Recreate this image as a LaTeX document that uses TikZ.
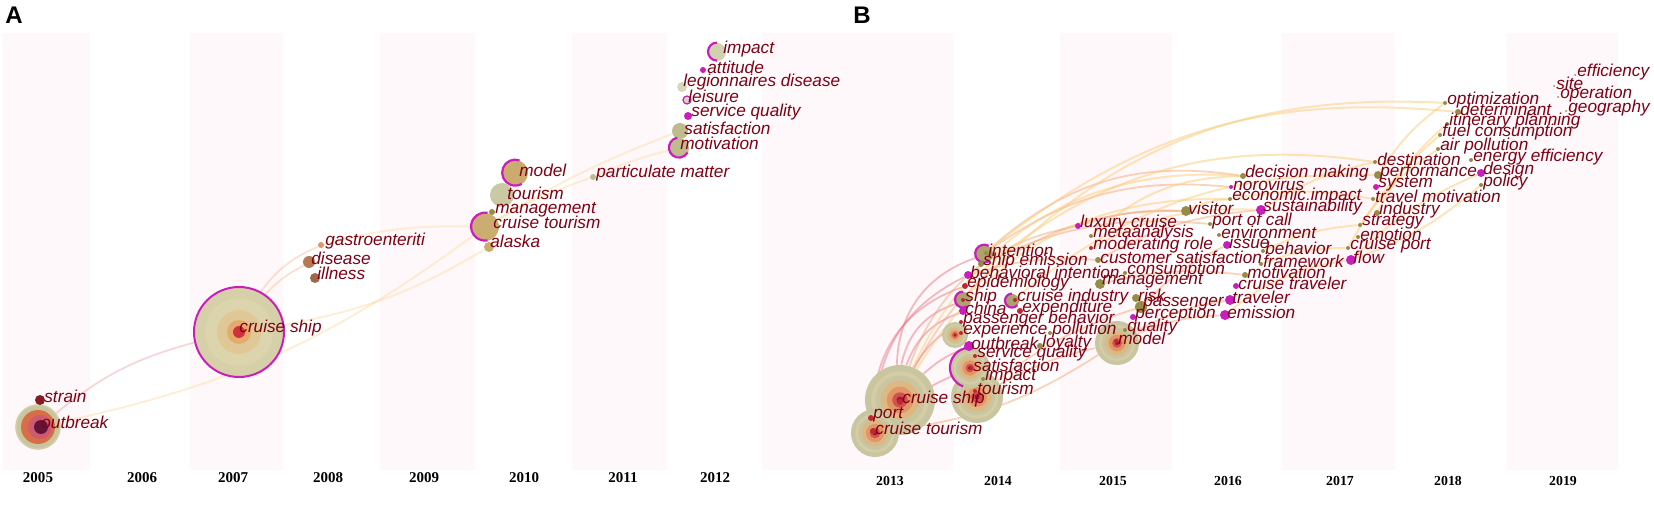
\documentclass[tikz,border=0pt]{standalone}
\usepackage{fontspec}
\setmainfont{Liberation Sans}
\newfontfamily\yearfont{Liberation Serif}
\pgfdeclarelayer{back}
\pgfdeclarelayer{edges}
\pgfsetlayers{back,edges,main}
\definecolor{lblc}{RGB}{128,0,20}
\definecolor{mag}{RGB}{200,30,190}
\definecolor{olv}{RGB}{190,188,140}
\definecolor{olvd}{RGB}{150,140,70}
\definecolor{tanc}{RGB}{205,170,110}
\definecolor{redd}{RGB}{190,40,50}
\definecolor{stripec}{RGB}{255,248,250}
\definecolor{rA}{RGB}{200,198,160}
\definecolor{rB}{RGB}{214,204,166}
\definecolor{rC}{RGB}{222,184,130}
\definecolor{rD}{RGB}{226,150,104}
\definecolor{rE}{RGB}{208,84,76}
\definecolor{rF}{RGB}{170,20,50}
\definecolor{obA}{RGB}{215,110,70}
\definecolor{obB}{RGB}{205,90,110}
\definecolor{obC}{RGB}{100,20,55}
\definecolor{csA}{RGB}{214,208,168}
\definecolor{csB}{RGB}{220,212,172}
\definecolor{csC}{RGB}{224,200,150}
\definecolor{csD}{RGB}{228,170,110}
\definecolor{csE}{RGB}{208,50,60}
\definecolor{edgeOc}{RGB}{240,160,110}
\definecolor{edgeYc}{RGB}{250,205,120}
\definecolor{edgePc}{RGB}{230,120,135}
\tikzset{
 lbl/.style={anchor=west,inner sep=0pt,text=lblc,font=\fontsize{8.6}{9}\selectfont\itshape},
 yr/.style={inner sep=0pt,font=\yearfont\bfseries\fontsize{7.5}{8}\selectfont},
 yrb/.style={inner sep=0pt,font=\yearfont\bfseries\fontsize{6.9}{8}\selectfont},
 panel/.style={anchor=base west,inner sep=0pt,font=\bfseries\fontsize{12}{12}\selectfont},
 edgeO/.style={draw=edgeOc,opacity=0.45,line width=0.9pt},
 edgeY/.style={draw=edgeYc,opacity=0.5,line width=1pt},
 edgeP/.style={draw=edgePc,opacity=0.5,line width=0.9pt},
 faint/.style={opacity=0.3},
 magarc/.style={draw=mag,line width=1.1pt},
}
% citation tree: name, x, y, radius (pt)
\newcommand\cstree[4]{%
 \node[circle,inner sep=0pt,minimum size=#4*2pt] (#1) at (#2,#3) {};
 \fill[rA] (#1.center) circle[radius=#4pt];
 \fill[rB] (#1.center) circle[radius=#4*0.82pt];
 \fill[rA] (#1.center) circle[radius=#4*0.7pt];
 \fill[rC] (#1.center) circle[radius=#4*0.55pt];
 \fill[rD] (#1.center) circle[radius=#4*0.38pt];
 \fill[rE] (#1.center) circle[radius=#4*0.22pt];
 \fill[rF] (#1.center) circle[radius=#4*0.1pt];
}
% keyword: name, x, y, text, dot colour, dot size (pt)
\newcommand\kw[6]{%
 \node[circle,fill=#5,inner sep=0pt,minimum size=#6pt] (#1) at (#2-2,#3+3) {};
 \node[lbl] (#1-t) at (#2,#3) {#4};
}
\begin{document}
\begin{tikzpicture}[x=0.5pt,y=-0.5pt]
\useasboundingbox (0,0) rectangle (1654,507);
% ---------- background and stripes ----------
\begin{pgfonlayer}{back}
\fill[white] (0,0) rectangle (1654,507);
\foreach \a/\b in {3/90,190/283,380/475,572/667,762/953,1060/1172,1282/1395,1507/1618}
 \fill[stripec] (\a,33) rectangle (\b,470);
\end{pgfonlayer}
\node[panel] (pA) at (5,24) {A};
\node[panel] (pB) at (853,24) {B};
% ---------- years ----------
\foreach \x/\y in {38/2005,142/2006,233/2007,328/2008,424/2009,524/2010,623/2011,715/2012}
 \node[yr] (y\y) at (\x,478) {\y};
\foreach \x/\y in {890/2013,998/2014,1113/2015,1228/2016,1340/2017,1448/2018,1563/2019}
 \node[yrb] (y\y) at (\x,481) {\y};
% ================= PANEL A =================
\node[circle,inner sep=0pt,minimum size=22pt,fill=rA,draw=rB,line width=0.8pt] (a-ob) at (38,427) {};
\fill[obA] (a-ob.center) circle[radius=8.5pt];
\fill[obB] ([xshift=1pt]a-ob.center) circle[radius=6pt];
\fill[obC] ([xshift=1.5pt]a-ob.center) circle[radius=3.5pt];
\node[circle,inner sep=0pt,minimum size=45pt,fill=csA,draw=mag,line width=1pt] (a-cs) at (239,332) {};
\fill[csB] (a-cs.center) circle[radius=17pt];
\fill[csC] (a-cs.center) circle[radius=11pt];
\fill[csD] (a-cs.center) circle[radius=6pt];
\fill[csE] (a-cs.center) circle[radius=3pt];
\node[circle,inner sep=0pt,minimum size=5pt,fill=redd!70!black] (a-strain) at (40,400) {};
\node[circle,inner sep=0pt,minimum size=3pt,fill=rD] (a-gas) at (321,245) {};
\node[circle,inner sep=0pt,minimum size=6pt,fill=rD!80!black] (a-dis) at (309,262) {};
\node[circle,inner sep=0pt,minimum size=5pt,fill=rD!70!black] (a-ill) at (315,278) {};
\node[circle,inner sep=0pt,minimum size=13pt,fill=tanc] (a-model) at (515,173) {};
\draw[magarc] (a-model.70) arc[start angle=70,end angle=300,radius=6.5pt];
\node[circle,inner sep=0pt,minimum size=12pt,fill=olv!80!white] (a-tour) at (502,195) {};
\node[circle,inner sep=0pt,minimum size=3pt,fill=olvd] (a-mgmt) at (492,212) {};
\node[circle,inner sep=0pt,minimum size=14pt,fill=tanc!90!olv] (a-ct) at (485,227) {};
\draw[magarc] (a-ct.80) arc[start angle=80,end angle=280,radius=7pt];
\node[circle,inner sep=0pt,minimum size=5pt,fill=tanc] (a-al) at (489,247) {};
\node[circle,inner sep=0pt,minimum size=3pt,fill=olv] (a-pm) at (593,177) {};
\node[circle,inner sep=0pt,minimum size=9pt,fill=olv!70!white] (a-imp) at (717,52) {};
\draw[magarc] (a-imp.90) arc[start angle=90,end angle=270,radius=4.5pt];
\node[circle,inner sep=0pt,minimum size=3pt,fill=mag] (a-att) at (703,70) {};
\node[circle,inner sep=0pt,minimum size=5pt,fill=olv!60!white] (a-leg) at (682,87) {};
\node[circle,inner sep=0pt,minimum size=4pt,fill=olv!60!white,draw=mag,line width=0.6pt] (a-lei) at (687,100) {};
\node[circle,inner sep=0pt,minimum size=4pt,fill=mag] (a-sq) at (688,116) {};
\node[circle,inner sep=0pt,minimum size=8pt,fill=olv] (a-sat) at (680,131) {};
\node[circle,inner sep=0pt,minimum size=10pt,fill=olv] (a-mot) at (679,148) {};
\draw[magarc] (a-mot.100) arc[start angle=100,end angle=330,radius=5pt];
% labels A
\node[lbl] (a-strain-t) at (44,396) {strain};
\node[lbl] (a-ob-t) at (41,422) {outbreak};
\node[lbl] (a-cs-t) at (239,328) {cruise ship};
\node[lbl] (a-gas-t) at (325,241) {gastroenteriti};
\node[lbl] (a-dis-t) at (311,258) {disease};
\node[lbl] (a-ill-t) at (317,273) {illness};
\node[lbl] (a-model-t) at (519,170) {model};
\node[lbl] (a-tour-t) at (507,193) {tourism};
\node[lbl] (a-mgmt-t) at (495,210) {management};
\node[lbl] (a-ct-t) at (493,222) {cruise tourism};
\node[lbl] (a-al-t) at (490,241) {alaska};
\node[lbl] (a-pm-t) at (596,173) {particulate matter};
\node[lbl] (a-imp-t) at (723,49) {impact};
\node[lbl] (a-att-t) at (707,67) {attitude};
\node[lbl] (a-leg-t) at (683,82) {legionnaires disease};
\node[lbl] (a-lei-t) at (688,96) {leisure};
\node[lbl] (a-sq-t) at (691,112) {service quality};
\node[lbl] (a-sat-t) at (684,128) {satisfaction};
\node[lbl] (a-mot-t) at (680,143) {motivation};
% edges A
\begin{pgfonlayer}{edges}
\draw[edgeP,faint] (a-ob) to[bend left=12] (a-cs);
\draw[edgeO,faint] (a-cs) to[bend left=10] (a-dis);
\draw[edgeO,faint] (a-cs) to[bend left=15] (a-gas);
\draw[edgeY,faint] (a-ob) to[bend right=12] (a-ct);
\draw[edgeY,faint] (a-cs) to[bend right=10] (a-al);
\draw[edgeY,faint] (a-gas) to[bend left=8] (a-ct);
\draw[edgeY,faint] (a-ct) to[bend left=5] (a-pm);
\draw[edgeY,faint] (a-ct) to[bend left=5] (a-sat);
\draw[edgeY,faint] (a-pm) to[bend left=5] (a-mot);
\end{pgfonlayer}
% ================= PANEL B =================
\cstree{b-cs}{900}{400}{17.5}
\cstree{b-ct}{875}{433}{12}
\cstree{b-tour}{977}{397}{13}
\cstree{b-sat}{970}{368}{10}
\draw[magarc] (b-sat.95) arc[start angle=95,end angle=250,radius=10pt];
\cstree{b-exp}{955}{335}{6.5}
\cstree{b-model}{1117}{343}{11}
\node[circle,inner sep=0pt,minimum size=9pt,fill=olvd!80!white] (b-int) at (984,254) {};
\draw[magarc] (b-int.60) arc[start angle=60,end angle=300,radius=4.5pt];
\node[circle,inner sep=0pt,minimum size=8pt,fill=olvd!80!white] (b-ship) at (963,300) {};
\draw[magarc] (b-ship.90) arc[start angle=90,end angle=300,radius=4pt];
\node[circle,inner sep=0pt,minimum size=7pt,fill=olvd!80!white] (b-ci) at (1012,301) {};
\draw[magarc] (b-ci.90) arc[start angle=90,end angle=320,radius=3.5pt];
\kw{b-port}{873}{415}{port}{redd}{3}
\kw{b-ctl}{875}{428}{cruise tourism}{redd}{3}
\kw{b-csl}{902}{399}{cruise ship}{redd}{3}
\kw{b-tourl}{977}{388}{tourism}{redd}{2}
\kw{b-impact}{985}{376}{impact}{olvd}{2}
\kw{b-satl}{973}{365}{satisfaction}{redd}{2}
\kw{b-sq}{977}{353}{service quality}{redd}{2}
\kw{b-outb}{971}{343}{outbreak}{mag}{5}
\kw{b-loy}{1042}{343}{loyalty}{olvd}{3}
\kw{b-expl}{963}{330}{experience}{redd}{2}
\kw{b-poll}{1052}{330}{pollution}{olvd}{2}
\kw{b-pb}{963}{319}{passenger behavior}{redd}{2}
\kw{b-china}{965}{308}{china}{mag}{4}
\kw{b-expd}{1022}{308}{expenditure}{redd}{3}
\kw{b-shipl}{965}{297}{ship}{redd}{2}
\kw{b-cil}{1017}{297}{cruise industry}{redd}{2}
\kw{b-risk}{1138}{295}{risk}{olvd}{4}
\kw{b-pass}{1143}{304}{passenger}{olvd}{6}
\kw{b-perc}{1135}{314}{perception}{mag}{3}
\kw{b-qual}{1127}{327}{quality}{olvd}{2}
\kw{b-modell}{1118}{338}{model}{redd}{2}
\kw{b-epi}{967}{283}{epidemiology}{redd}{3}
\kw{b-bi}{970}{272}{behavioral intention}{mag}{4}
\kw{b-se}{983}{261}{ship emission}{olvd}{3}
\kw{b-intl}{988}{250}{intention}{olvd}{2}
\kw{b-lux}{1080}{223}{luxury cruise}{mag}{3}
\kw{b-meta}{1093}{233}{metaanalysis}{olvd}{2}
\kw{b-mod}{1093}{245}{moderating role}{redd}{2}
\kw{b-custs}{1100}{257}{customer satisfaction}{olvd}{3}
\kw{b-cons}{1127}{270}{consumption}{olvd}{2}
\kw{b-mgmt}{1102}{281}{management}{olvd}{5}
\kw{b-trav}{1232}{297}{traveler}{mag}{5}
\kw{b-emis}{1227}{312}{emission}{mag}{5}
\kw{b-mot}{1247}{272}{motivation}{olvd}{3}
\kw{b-ctrav}{1238}{283}{cruise traveler}{mag}{3}
\kw{b-frame}{1263}{261}{framework}{olvd}{2}
\kw{b-behav}{1265}{248}{behavior}{olvd}{2}
\kw{b-issue}{1229}{242}{issue}{mag}{4}
\kw{b-env}{1221}{232}{environment}{olvd}{2}
\kw{b-poc}{1212}{221}{port of call}{olvd}{2}
\kw{b-vis}{1188}{208}{visitor}{olvd}{5}
\kw{b-sust}{1263}{207}{sustainability}{mag}{5}
\kw{b-ei}{1232}{196}{economic impact}{olvd}{2}
\kw{b-noro}{1233}{184}{norovirus}{mag}{2}
\kw{b-dm}{1245}{173}{decision making}{olvd}{3}
\kw{b-dest}{1377}{159}{destination}{olvd}{2}
\kw{b-perf}{1380}{172}{performance}{olvd}{4}
\kw{b-sys}{1378}{184}{system}{mag}{3}
\kw{b-tm}{1375}{196}{travel motivation}{olvd}{2}
\kw{b-ind}{1379}{210}{industry}{olvd}{3}
\kw{b-strat}{1362}{222}{strategy}{olvd}{2}
\kw{b-emot}{1360}{234}{emotion}{olvd}{2}
\kw{b-cport}{1350}{245}{cruise port}{olvd}{2}
\kw{b-flow}{1353}{257}{flow}{mag}{5}
\kw{b-opt}{1447}{100}{optimization}{olvd}{2}
\kw{b-det}{1460}{109}{determinant}{olvd}{3}
\kw{b-ip}{1449}{121}{itinerary planning}{olvd}{2}
\kw{b-fc}{1442}{132}{fuel consumption}{olvd}{2}
\kw{b-ap}{1440}{146}{air pollution}{olvd}{2}
\kw{b-ee}{1473}{157}{energy efficiency}{olvd}{2}
\kw{b-design}{1483}{170}{design}{mag}{4}
\kw{b-policy}{1483}{182}{policy}{olvd}{2}
\kw{b-eff}{1577}{72}{efficiency}{olvd}{1}
\kw{b-site}{1556}{83}{site}{olvd}{1}
\kw{b-oper}{1560}{94}{operation}{olvd}{1}
\kw{b-geo}{1568}{108}{geography}{olvd}{1}
% edges B
\begin{pgfonlayer}{edges}
\draw[edgeP] (b-cs) to[bend left=35] (b-int);
\draw[edgeP] (b-cs) to[bend left=30] (b-ship);
\draw[edgeP] (b-cs) to[bend left=25] (b-china);
\draw[edgeP] (b-ct) to[bend left=35] (b-epi);
\draw[edgeP] (b-ct) to[bend left=30] (b-bi);
\draw[edgeP] (b-cs) to[bend left=15] (b-pb);
\draw[edgeP] (b-cs) to[bend left=10] (b-outb);
\draw[edgeP] (b-ct) to[bend left=10] (b-sat);
\draw[edgeO] (b-cs) to[bend left=30] (b-lux);
\draw[edgeO] (b-cs) to[bend left=32] (b-vis);
\draw[edgeO] (b-ct) to[bend right=12] (b-model);
\draw[edgeO] (b-tour) to[bend left=8] (b-model);
\draw[edgeO] (b-tour) to[bend left=10] (b-pass);
\draw[edgeO] (b-int) to[bend left=20] (b-noro);
\draw[edgeO] (b-int) to[bend left=25] (b-dm);
\draw[edgeO] (b-se) to[bend left=15] (b-poc);
\draw[edgeO] (b-bi) to[bend left=10] (b-custs);
\draw[edgeO] (b-lux) to[bend left=10] (b-vis);
\draw[edgeO] (b-custs) to[bend left=12] (b-sust);
\draw[edgeO] (b-mgmt) to[bend left=10] (b-mot);
\draw[edgeO] (b-model) to[bend left=10] (b-emis);
\draw[edgeO] (b-model) to[bend left=10] (b-trav);
\draw[edgeO] (b-pass) to[bend left=10] (b-issue);
\draw[edgeY] (b-ship) to[bend left=25] (b-opt);
\draw[edgeY] (b-epi) to[bend left=25] (b-dest);
\draw[edgeY] (b-ci) to[bend left=20] (b-perf);
\draw[edgeY] (b-int) to[bend left=22] (b-det);
\draw[edgeY] (b-cs) to[bend left=35] (b-dm);
\draw[edgeY] (b-cs) to[bend left=30] (b-ei);
\draw[edgeY] (b-vis) to[bend left=10] (b-ei);
\draw[edgeY] (b-sust) to[bend left=10] (b-dest);
\draw[edgeY] (b-cport) to[bend left=10] (b-fc);
\draw[edgeY] (b-strat) to[bend left=10] (b-ap);
\draw[edgeY] (b-ind) to[bend left=10] (b-ip);
\draw[edgeY] (b-flow) to[bend left=10] (b-design);
\draw[edgeY] (b-flow) to[bend right=10] (b-policy);
\draw[edgeY] (b-perf) to[bend left=10] (b-opt);
\draw[edgeY] (b-ei) to[bend left=10] (b-tm);
\draw[edgeY] (b-frame) to[bend left=10] (b-cport);
\draw[edgeY] (b-behav) to[bend left=10] (b-strat);
\draw[edgeY] (b-emis) to[bend left=15] (b-flow);
\draw[edgeY] (b-mod) to[bend left=15] (b-sust);
\draw[edgeY] (b-meta) to[bend left=20] (b-dm);
\end{pgfonlayer}
\end{tikzpicture}
\end{document}
